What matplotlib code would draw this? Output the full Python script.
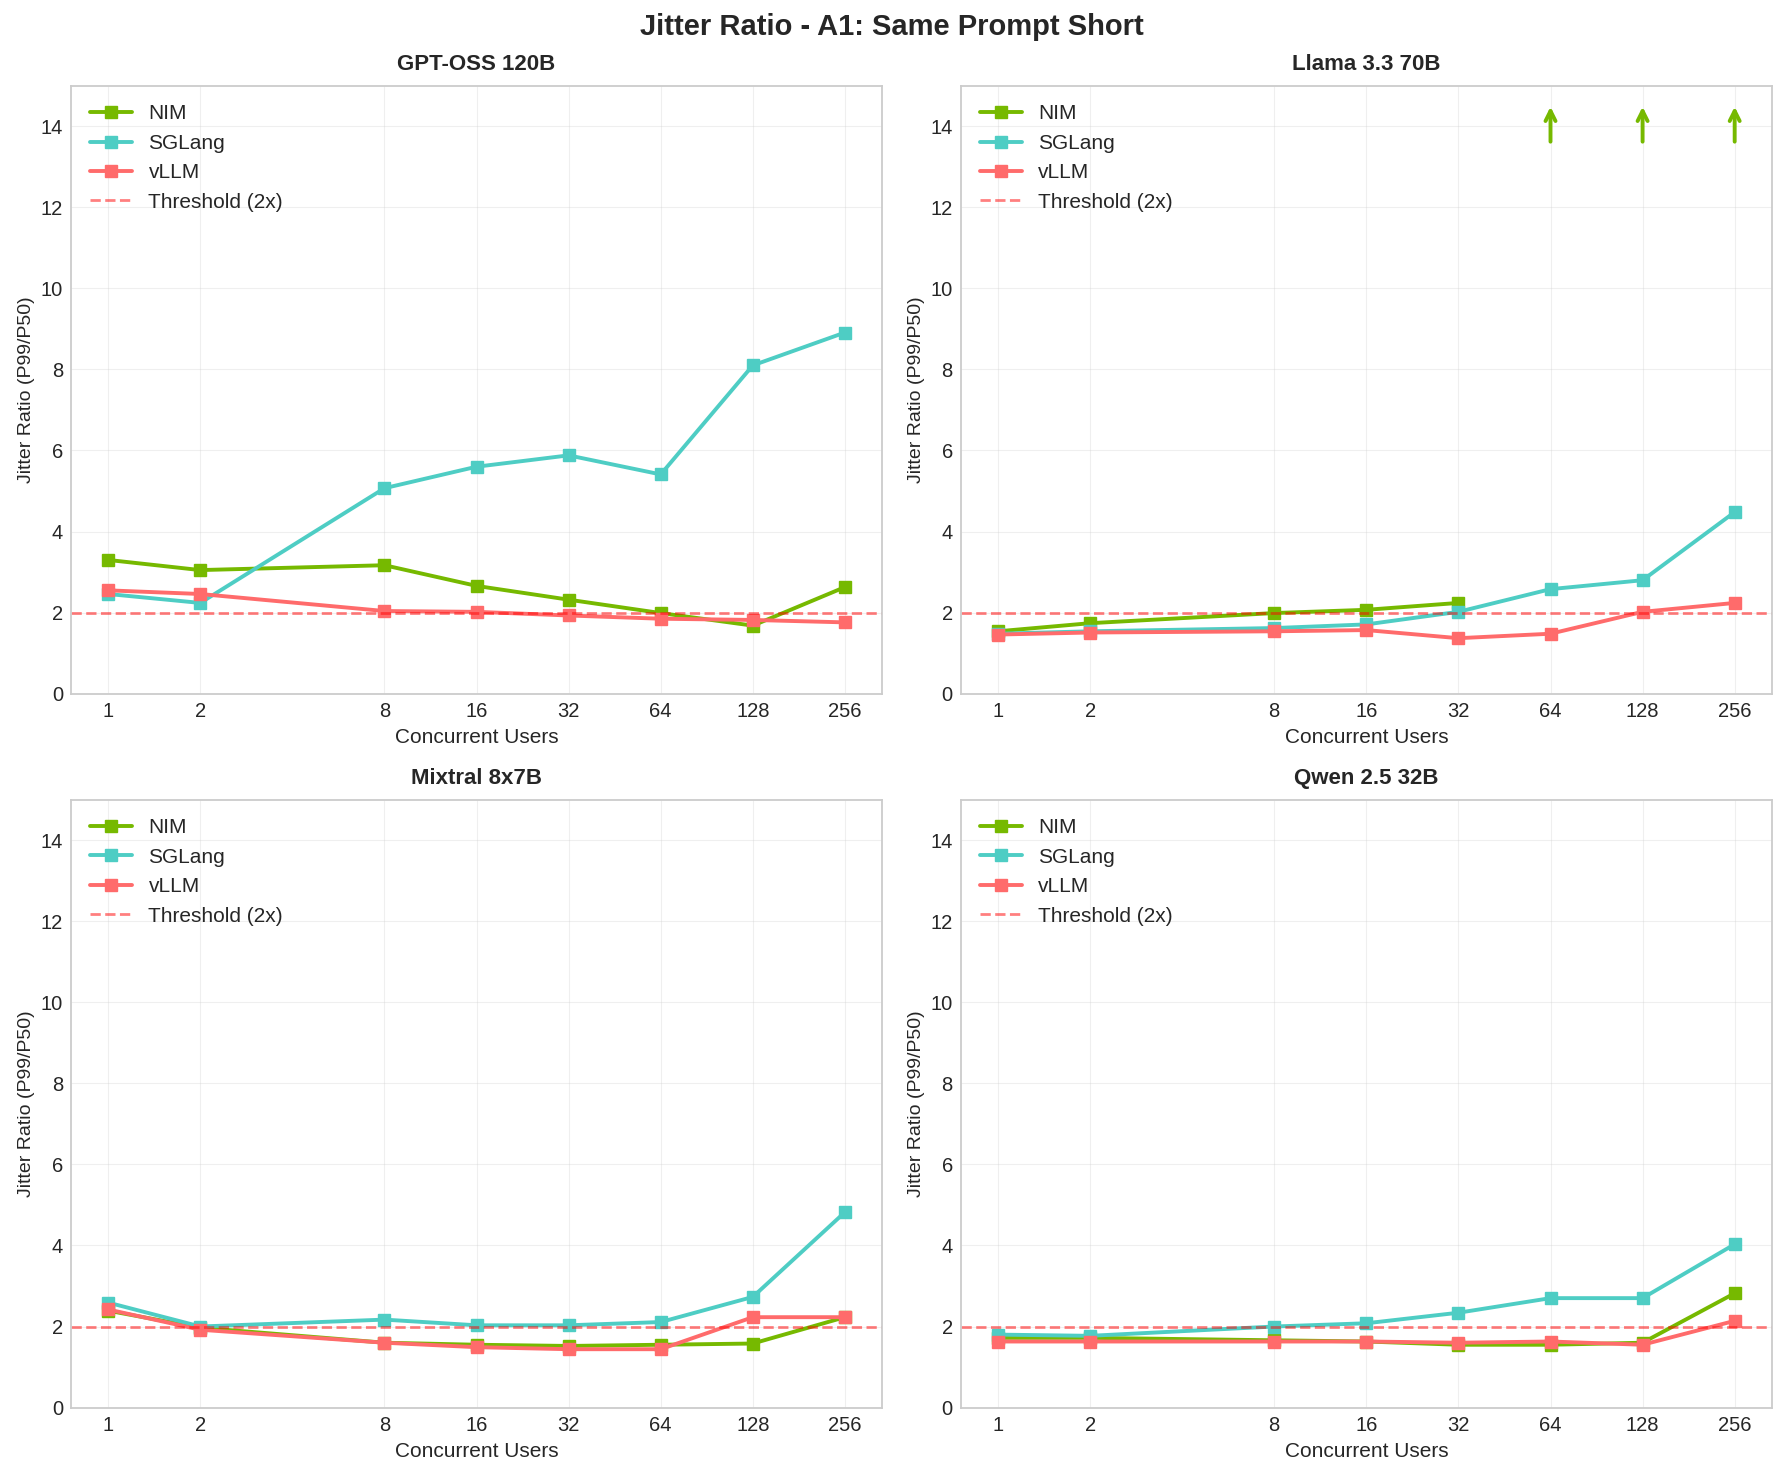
import numpy as np
import matplotlib
matplotlib.use("Agg")
import matplotlib.pyplot as plt

plt.style.use("seaborn-v0_8-whitegrid")
plt.rcParams['font.family'] = ['Liberation Sans', 'DejaVu Sans']

# Data
users = [1, 2, 8, 16, 32, 64, 128, 256]
models = ["GPT-OSS 120B", "Llama 3.3 70B", "Mixtral 8x7B", "Qwen 2.5 32B"]

# nan = off the chart (drawn as an up arrow)
nim = {
    "GPT-OSS 120B": [3.30, 3.05, 3.17, 2.66, 2.32, 1.99, 1.68, 2.63],
    "Llama 3.3 70B": [1.54, 1.74, 1.99, 2.07, 2.24, np.nan, np.nan, np.nan],
    "Mixtral 8x7B": [2.39, 1.97, 1.60, 1.55, 1.52, 1.55, 1.58, 2.23],
    "Qwen 2.5 32B": [1.72, 1.72, 1.66, 1.63, 1.55, 1.55, 1.60, 2.82],
}
sglang = {
    "GPT-OSS 120B": [2.46, 2.24, 5.07, 5.60, 5.88, 5.41, 8.10, 8.91],
    "Llama 3.3 70B": [1.48, 1.54, 1.62, 1.71, 2.02, 2.58, 2.80, 4.48],
    "Mixtral 8x7B": [2.59, 2.00, 2.17, 2.03, 2.03, 2.11, 2.73, 4.82],
    "Qwen 2.5 32B": [1.80, 1.77, 2.00, 2.08, 2.34, 2.70, 2.70, 4.03],
}
vllm = {
    "GPT-OSS 120B": [2.55, 2.46, 2.04, 2.02, 1.93, 1.85, 1.82, 1.76],
    "Llama 3.3 70B": [1.46, 1.51, 1.54, 1.57, 1.37, 1.48, 2.02, 2.24],
    "Mixtral 8x7B": [2.42, 1.92, 1.60, 1.49, 1.44, 1.44, 2.23, 2.23],
    "Qwen 2.5 32B": [1.63, 1.63, 1.63, 1.63, 1.60, 1.63, 1.55, 2.14],
}

colors = {"NIM": "#76B900", "SGLang": "#4ECDC4", "vLLM": "#FF6B6B"}
threshold = 2.0

fig, axes = plt.subplots(2, 2, figsize=(17.84, 14.77), dpi=100)
fig.subplots_adjust(left=0.040, right=0.993, top=0.942, bottom=0.047,
                    wspace=0.098, hspace=0.174)

for ax, model in zip(axes.flat, models):
    for name, series in [("NIM", nim), ("SGLang", sglang), ("vLLM", vllm)]:
        ax.plot(users, series[model], marker='s', markersize=8, linewidth=2.8,
                color=colors[name], label=name)
    ax.axhline(threshold, color='red', linestyle='--', linewidth=2, alpha=0.5,
               label='Threshold (2x)')

    # off-scale points
    for x, v in zip(users, nim[model]):
        if np.isnan(v):
            ax.annotate('', xy=(x, 14.55), xytext=(x, 13.55),
                        arrowprops=dict(arrowstyle='->', color=colors["NIM"],
                                        lw=2.8, mutation_scale=18))

    ax.set_xscale('log', base=2)
    ax.set_xticks(users)
    ax.set_xticklabels([str(u) for u in users])
    ax.minorticks_off()
    ax.set_ylim(0, 15)
    ax.set_title(model, fontsize=16, fontweight='bold', pad=11)
    ax.set_xlabel("Concurrent Users", fontsize=15, labelpad=5)
    ax.set_ylabel("Jitter Ratio (P99/P50)", fontsize=14)
    ax.tick_params(labelsize=14.5, pad=6)
    ax.grid(True, alpha=0.3)
    for s in ax.spines.values():
        s.set_visible(True)
        s.set_color('#cccccc')
        s.set_linewidth(1.3)
    ax.legend(loc='upper left', fontsize=15)

fig.suptitle("Jitter Ratio - A1: Same Prompt Short", fontsize=21, fontweight='bold', y=0.991)

plt.savefig("out.png", dpi=100)
